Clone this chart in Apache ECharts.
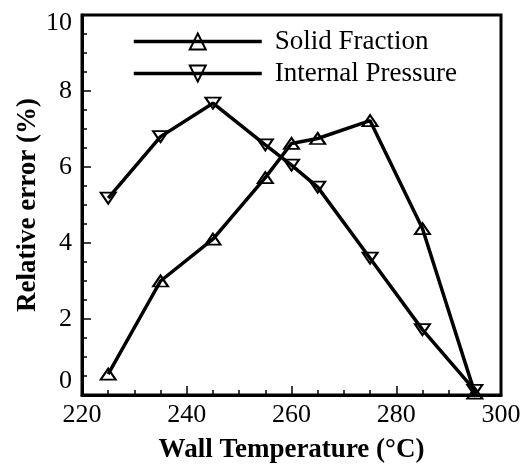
<!DOCTYPE html>
<html>
<head>
<meta charset="utf-8">
<script src="https://cdn.jsdelivr.net/npm/echarts@6/dist/echarts.min.js"></script>
<style>
  html, body { margin: 0; padding: 0; background: #fff; }
  #chart { width: 531px; height: 470px; }
</style>
</head>
<body>
<div id="chart"></div>
<script>
// Wall temperature (°C) at which each case was run
const wallTemperature = [225, 235, 245, 255, 260, 265, 275, 285, 295];
// Relative error (%) of each predicted quantity
const solidFraction = [0.55, 3.0, 4.1, 5.72, 6.62, 6.75, 7.22, 4.38, 0.05];
const internalPressure = [5.18, 6.8, 7.68, 6.58, 6.05, 5.47, 3.6, 1.72, 0.12];

const xTicks = { min: 220, max: 300, step: 20 };
const yTicks = { min: 0, max: 10, step: 2 };

const FONT = 'Liberation Serif';

function pairs(xs, ys) {
  return xs.map((x, i) => [x, ys[i]]);
}

const chart = echarts.init(document.getElementById('chart'), null, { renderer: 'canvas' });

// Hollow triangles drawn over black polylines
const seriesStyle = {
  type: 'line',
  symbol: 'triangle',
  symbolSize: [15, 11],
  showAllSymbol: true,
  lineStyle: { color: '#000', width: 3.5 },
  itemStyle: { color: 'rgba(0,0,0,0)', borderColor: '#000', borderWidth: 2 },
  emphasis: { disabled: true },
  animation: false,
  z: 3
};

chart.setOption({
  backgroundColor: '#fff',
  animation: false,
  textStyle: { fontFamily: FONT, color: '#000' },
  grid: {
    left: 82, right: 30, top: 15, bottom: 75,
    outerBoundsMode: 'none',
    containLabel: false,
    show: true, borderColor: '#000', borderWidth: 3, backgroundColor: 'transparent'
  },
  legend: {
    left: 127, top: 23,
    orient: 'vertical',
    itemWidth: 128, itemHeight: 20, itemGap: 5,
    lineStyle: { width: 3.5, color: '#000' },
    itemStyle: { color: 'rgba(0,0,0,0)', borderColor: '#000', borderWidth: 2 },
    textStyle: { fontFamily: FONT, fontSize: 27, color: '#000', padding: [0, 0, 0, 8] },
    data: ['Solid Fraction', 'Internal Pressure']
  },
  xAxis: {
    type: 'value',
    min: xTicks.min, max: xTicks.max, interval: xTicks.step,
    name: 'Wall Temperature (°C)',
    nameLocation: 'middle', nameGap: 42,
    nameMoveOverlap: false,
    nameTextStyle: { fontFamily: FONT, fontSize: 27, fontWeight: 'bold', color: '#000' },
    axisLine: { show: true, onZero: false, lineStyle: { color: '#000', width: 3 } },
    axisTick: { show: true, inside: true, length: 9, lineStyle: { color: '#000', width: 1.5 } },
    minorTick: { show: true, splitNumber: 4, length: 5, lineStyle: { color: '#000', width: 1.5 } },
    splitLine: { show: false },
    axisLabel: { fontFamily: FONT, fontSize: 26, color: '#000', margin: 7 }
  },
  yAxis: {
    type: 'value',
    min: yTicks.min, max: yTicks.max, interval: yTicks.step,
    name: 'Relative error (%)',
    nameLocation: 'middle', nameGap: 40,
    nameMoveOverlap: false,
    nameTextStyle: { fontFamily: FONT, fontSize: 27, fontWeight: 'bold', color: '#000' },
    axisLine: { show: true, onZero: false, lineStyle: { color: '#000', width: 3 } },
    axisTick: { show: true, inside: true, length: 9, lineStyle: { color: '#000', width: 1.5 } },
    minorTick: { show: true, splitNumber: 4, length: 5, lineStyle: { color: '#000', width: 1.5 } },
    splitLine: { show: false },
    axisLabel: {
      fontFamily: FONT, fontSize: 26, color: '#000', margin: 10,
      formatter: function (v) {
        if (v === yTicks.max) return '{hi|' + v + '}';
        if (v === yTicks.min) return '{lo|' + v + '}';
        return String(v);
      },
      rich: {
        hi: { fontFamily: FONT, fontSize: 26, color: '#000', padding: [16, 0, 0, 0] },
        lo: { fontFamily: FONT, fontSize: 26, color: '#000', padding: [0, 0, 28, 0] }
      }
    }
  },
  series: [
    Object.assign({}, seriesStyle, {
      name: 'Solid Fraction',
      data: pairs(wallTemperature, solidFraction)
    }),
    Object.assign({}, seriesStyle, {
      name: 'Internal Pressure',
      symbolRotate: 180,
      data: pairs(wallTemperature, internalPressure)
    })
  ]
});
</script>
</body>
</html>
